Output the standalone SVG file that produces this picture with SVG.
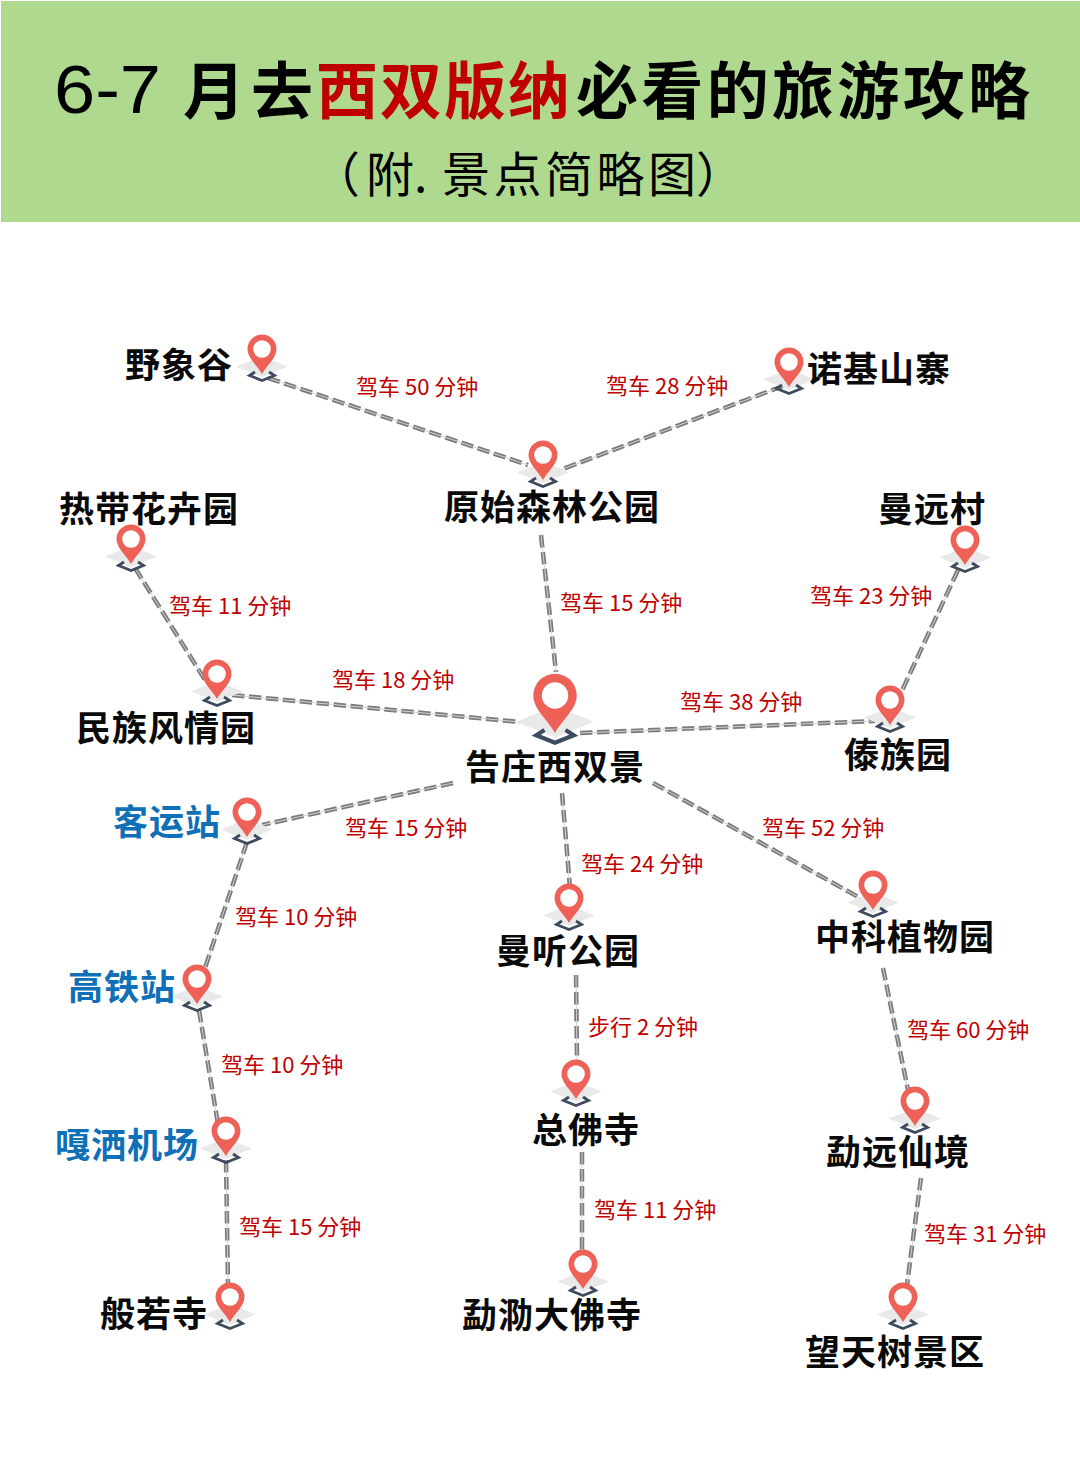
<svg xmlns="http://www.w3.org/2000/svg" width="1080" height="1466" viewBox="0 0 1080 1466">
<style>
text{font-family:"Noto Sans CJK SC","Liberation Sans",sans-serif}
.t{font-size:62px;font-weight:700;fill:#000}
.s{font-size:48px;font-weight:400;fill:#000}
.n{font-size:35px;font-weight:700;letter-spacing:1px;fill:#0a0a0a}
.b{fill:#0f70b7}
.e{font-size:22px;fill:#c00000}
.o{stroke:#7c7c7c;stroke-width:4.500;stroke-dasharray:12.500 4.500;fill:none}
.i{stroke:#d2d2d2;stroke-width:1;fill:none}
</style>
<defs>
<g id="pin">
<path d="M-26-7.500L0-18 26-7.500 0 3Z" fill="#e9e9e9"/>
<path d="M-7-2-12.500 1.500 0 6.500 12.500 1.500 7-2" fill="none" stroke="#3e4a5e" stroke-width="2.800"/>
<path d="M0 0C-5-9-14.500-16-14.500-25A14.500 14.500 0 0 1 14.500-25C14.500-16 5-9 0 0Z" fill="#ee6157"/>
<circle cx="0" cy="-25" r="8.800" fill="#fff"/>
</g>
</defs>
<rect width="1080" height="1466" fill="#fff"/>
<g id="banner">
<rect x="1" y="1" width="1079" height="221" fill="#aed98f"/>
<text x="54" y="113" style="font-family:'Liberation Sans',sans-serif;font-size:68px" fill="#000" textLength="107" lengthAdjust="spacingAndGlyphs">6-7</text>
<text x="183" y="114" class="t" textLength="130">月去</text>
<text x="316" y="114" class="t" style="fill:#c00000" textLength="254">西双版纳</text>
<text x="576" y="114" class="t" textLength="454">必看的旅游攻略</text>
<text y="192" class="s"><tspan x="312">（</tspan><tspan x="366">附.</tspan><tspan x="442" textLength="254">景点简略图</tspan><tspan x="696">）</tspan></text>
</g>
<g id="connectors">
<path class="o" d="M268 378 528 465"/><path class="i" d="M268 378 528 465"/>
<path class="o" d="M783 386 560 470"/><path class="i" d="M783 386 560 470"/>
<path class="o" d="M541 535 556 672"/><path class="i" d="M541 535 556 672"/>
<path class="o" d="M135 568 205 680"/><path class="i" d="M135 568 205 680"/>
<path class="o" d="M232 695 520 722"/><path class="i" d="M232 695 520 722"/>
<path class="o" d="M958 570 900 695"/><path class="i" d="M958 570 900 695"/>
<path class="o" d="M580 733 875 721"/><path class="i" d="M580 733 875 721"/>
<path class="o" d="M453 783 262 825"/><path class="i" d="M453 783 262 825"/>
<path class="o" d="M247 842 205 968"/><path class="i" d="M247 842 205 968"/>
<path class="o" d="M199 1010 219 1130"/><path class="i" d="M199 1010 219 1130"/>
<path class="o" d="M226 1160 228 1285"/><path class="i" d="M226 1160 228 1285"/>
<path class="o" d="M562 793 570 888"/><path class="i" d="M562 793 570 888"/>
<path class="o" d="M576 975 577 1060"/><path class="i" d="M576 975 577 1060"/>
<path class="o" d="M582 1152 582 1250"/><path class="i" d="M582 1152 582 1250"/>
<path class="o" d="M653 783 860 898"/><path class="i" d="M653 783 860 898"/>
<path class="o" d="M883 968 908 1090"/><path class="i" d="M883 968 908 1090"/>
<path class="o" d="M921 1178 907 1285"/><path class="i" d="M921 1178 907 1285"/>
</g>
<g id="edge-labels">
<text class="e" x="356" y="395">驾车 50 分钟</text>
<text class="e" x="606" y="394">驾车 28 分钟</text>
<text class="e" x="560" y="611">驾车 15 分钟</text>
<text class="e" x="169" y="614">驾车 11 分钟</text>
<text class="e" x="810" y="604">驾车 23 分钟</text>
<text class="e" x="332" y="688">驾车 18 分钟</text>
<text class="e" x="680" y="710">驾车 38 分钟</text>
<text class="e" x="345" y="836">驾车 15 分钟</text>
<text class="e" x="581" y="872">驾车 24 分钟</text>
<text class="e" x="762" y="836">驾车 52 分钟</text>
<text class="e" x="235" y="925">驾车 10 分钟</text>
<text class="e" x="221" y="1073">驾车 10 分钟</text>
<text class="e" x="588" y="1035">步行 2 分钟</text>
<text class="e" x="907" y="1038">驾车 60 分钟</text>
<text class="e" x="239" y="1235">驾车 15 分钟</text>
<text class="e" x="594" y="1218">驾车 11 分钟</text>
<text class="e" x="924" y="1242">驾车 31 分钟</text>
</g>
<g id="n1"><use href="#pin" x="262" y="374"/><text class="n" x="125" y="378">野象谷</text></g>
<g id="n2"><use href="#pin" x="789" y="387"/><text class="n" x="807" y="382">诺基山寨</text></g>
<g id="n3"><use href="#pin" x="543" y="480"/><text class="n" x="444" y="520">原始森林公园</text></g>
<g id="n4"><use href="#pin" x="131" y="564"/><text class="n" x="59" y="522">热带花卉园</text></g>
<g id="n5"><use href="#pin" x="965" y="565"/><text class="n" x="878" y="522">曼远村</text></g>
<g id="n6"><use href="#pin" x="217" y="699"/><text class="n" x="76" y="741">民族风情园</text></g>
<g id="n7"><use href="#pin" transform="translate(555 733) scale(1.5)"/><text class="n" x="465" y="780">告庄西双景</text></g>
<g id="n8"><use href="#pin" x="890" y="725"/><text class="n" x="844" y="768">傣族园</text></g>
<g id="n9"><use href="#pin" x="247" y="837"/><text class="n b" x="113" y="835">客运站</text></g>
<g id="n10"><use href="#pin" x="197" y="1004"/><text class="n b" x="68" y="1000">高铁站</text></g>
<g id="n11"><use href="#pin" x="226" y="1156"/><text class="n b" x="55" y="1158">嘎洒机场</text></g>
<g id="n12"><use href="#pin" x="230" y="1322"/><text class="n" x="100" y="1327">般若寺</text></g>
<g id="n13"><use href="#pin" x="569" y="923"/><text class="n" x="496" y="964">曼听公园</text></g>
<g id="n14"><use href="#pin" x="576" y="1099"/><text class="n" x="532" y="1143">总佛寺</text></g>
<g id="n15"><use href="#pin" x="583" y="1289"/><text class="n" x="462" y="1328">勐泐大佛寺</text></g>
<g id="n16"><use href="#pin" x="873" y="910"/><text class="n" x="815" y="950">中科植物园</text></g>
<g id="n17"><use href="#pin" x="915" y="1126"/><text class="n" x="826" y="1165">勐远仙境</text></g>
<g id="n18"><use href="#pin" x="903" y="1322"/><text class="n" x="805" y="1365">望天树景区</text></g>
</svg>
